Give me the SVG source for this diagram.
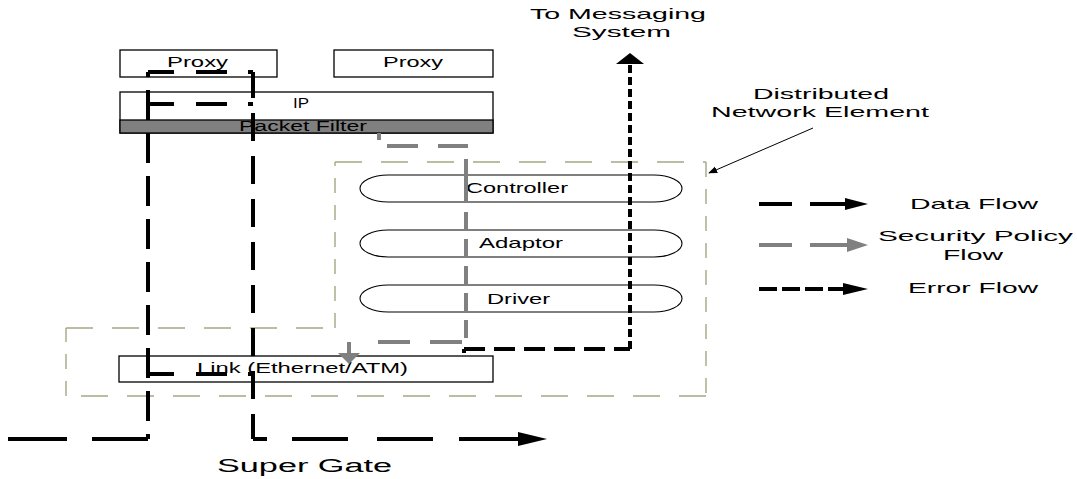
<svg xmlns="http://www.w3.org/2000/svg" width="1077" height="479" viewBox="0 0 1077 479">
<style>
text{font-family:"Liberation Sans",Arial,sans-serif;font-size:15px;fill:#000}
.box{fill:#fff;stroke:#000;stroke-width:1.3}
.pill{fill:#fff;stroke:#000;stroke-width:1.1}
.pf{fill:#808080;stroke:#000;stroke-width:1.3}
.dne{fill:none;stroke:#a6a684;stroke-width:1.4}
.dh{stroke-dasharray:27 19}
.dv{stroke-dasharray:15 12}
.data{fill:none;stroke:#000;stroke-width:4}
.sec{fill:none;stroke:#808080;stroke-width:4}
.err{fill:none;stroke:#000;stroke-width:4}
.hk{fill:#000}
.hg{fill:#808080}
.thin{fill:none;stroke:#000;stroke-width:1}
</style>
<defs>
<marker id="callout" viewBox="0 0 10 10" refX="9" refY="5" markerWidth="9" markerHeight="9" markerUnits="userSpaceOnUse" orient="auto">
<path d="M0,1 L10,5 L0,9 Z" fill="#000"/>
</marker>
</defs>
<rect width="1077" height="479" fill="#fff"/>

<g id="dne">
<path class="dne dh" d="M335,162 H706"/>
<path class="dne dv" d="M706,162 V396"/>
<path class="dne dh" d="M706,396 H66"/>
<path class="dne dv" d="M66,396 V328"/>
<path class="dne dh" d="M66,328 H335"/>
<path class="dne dv" d="M335,328 V162"/>
</g>

<g id="proxy1"><rect class="box" x="120" y="50" width="157" height="27"/><text x="167" y="67" textLength="61" lengthAdjust="spacingAndGlyphs">Proxy</text></g>
<g id="proxy2"><rect class="box" x="334" y="50" width="159" height="27"/><text x="383" y="67" textLength="60" lengthAdjust="spacingAndGlyphs">Proxy</text></g>
<g id="ip"><rect class="box" x="120" y="92" width="373" height="41"/><text x="293" y="108" textLength="16" lengthAdjust="spacingAndGlyphs">IP</text></g>
<g id="packet-filter"><rect class="pf" x="120" y="120" width="373" height="13"/><text x="239" y="131" style="font-size:14px" textLength="128" lengthAdjust="spacingAndGlyphs">Packet Filter</text></g>
<g id="controller"><rect class="pill" x="360" y="175" width="322" height="27" rx="28" ry="13.5"/><text x="466" y="193" textLength="102" lengthAdjust="spacingAndGlyphs">Controller</text></g>
<g id="adaptor"><rect class="pill" x="360" y="230" width="322" height="27" rx="28" ry="13.5"/><text x="479" y="248" textLength="84" lengthAdjust="spacingAndGlyphs">Adaptor</text></g>
<g id="driver"><rect class="pill" x="360" y="285" width="322" height="27" rx="28" ry="13.5"/><text x="487" y="304" textLength="63" lengthAdjust="spacingAndGlyphs">Driver</text></g>
<g id="link"><rect class="box" x="119" y="356" width="374" height="26"/><text x="197" y="373" textLength="211" lengthAdjust="spacingAndGlyphs">Link (Ethernet/ATM)</text></g>

<g id="labels">
<text x="530" y="19" textLength="176" lengthAdjust="spacingAndGlyphs">To Messaging</text>
<text x="572" y="37" textLength="99" lengthAdjust="spacingAndGlyphs">System</text>
<text x="753" y="99" textLength="136" lengthAdjust="spacingAndGlyphs">Distributed</text>
<text x="711" y="117" textLength="218" lengthAdjust="spacingAndGlyphs">Network Element</text>
<text x="217" y="472" style="font-size:18px" textLength="175" lengthAdjust="spacingAndGlyphs">Super Gate</text>
</g>

<g id="legend">
<text x="910" y="209" textLength="128" lengthAdjust="spacingAndGlyphs">Data Flow</text>
<text x="878" y="241" textLength="195" lengthAdjust="spacingAndGlyphs">Security Policy</text>
<text x="943" y="260" textLength="60" lengthAdjust="spacingAndGlyphs">Flow</text>
<text x="908" y="293" textLength="130" lengthAdjust="spacingAndGlyphs">Error Flow</text>
</g>

<g id="connectors">
<!-- data flow -->
<path class="data" d="M8,439 H148" stroke-dasharray="59 25"/>
<path class="data" d="M148,72 V439" stroke-dasharray="30 13" stroke-dashoffset="25"/>
<path class="data" d="M148,72 H253" stroke-dasharray="26 22 31 21 10 40"/>
<path class="data" d="M148,104 H253" stroke-dasharray="26 22 31 21 10 40"/>
<path class="data" d="M148,374 H253" stroke-dasharray="26 22 31 21 10 40"/>
<path class="data" d="M253,72 V439" stroke-dasharray="28 15" stroke-dashoffset="2"/>
<path class="data" d="M253,439 H518" stroke-dasharray="14 25 56 29 56 26 59 40"/>
<polygon class="hk" points="518,432 547,439 518,446"/>
<!-- security policy flow -->
<path class="sec" d="M379,133 V146" stroke-dasharray="7 20"/>
<path class="sec" d="M379,146 H468" stroke-dasharray="0 8 31 20 31 20"/>
<path class="sec" d="M466,146 V342" stroke-dasharray="0 13 44 9 18 9 18 9 18 9 18 9 18 9"/>
<path class="sec" d="M466,342 H349" stroke-dasharray="0 4 32 20 32 40"/>
<path class="sec" d="M349,342 V354"/>
<polygon class="hg" points="338,353 360,353 349,364"/>
<!-- error flow -->
<path class="err" d="M464,353 V349 H630" stroke-dasharray="4 0 21 9 21 9 21 9 21 9 21 9 21 9 21 9"/>
<path class="err" d="M630,349 V64" stroke-dasharray="8 4"/>
<polygon class="hk" points="616,64 644,64 630,53"/>
<!-- callout -->
<path class="thin" d="M813,128 L709,173" marker-end="url(#callout)"/>
<!-- legend lines -->
<path class="data" d="M759,204 H845" stroke-dasharray="33 18 35"/>
<polygon class="hk" points="845,198 868,204 845,210"/>
<path class="sec" d="M759,245 H847" stroke-dasharray="33 18 37"/>
<polygon class="hg" points="847,238 868,245 847,252"/>
<path class="err" d="M759,289 H845" stroke-dasharray="18 5"/>
<polygon class="hk" points="843,283 868,289 843,295"/>
</g>
</svg>
